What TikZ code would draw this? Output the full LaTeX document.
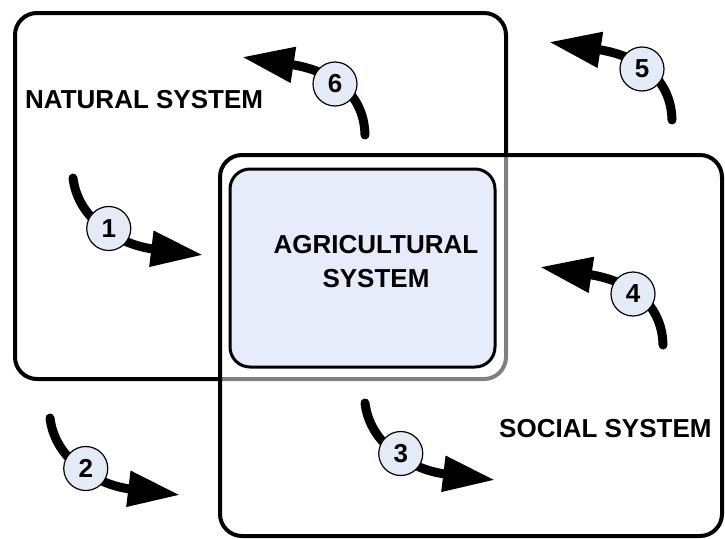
\documentclass[tikz,border=0pt]{standalone}
\usepackage{fontspec}
\setmainfont{Liberation Sans}
\usetikzlibrary{arrows.meta}
\usetikzlibrary{positioning}
\definecolor{agrifill}{RGB}{232,236,250}
\definecolor{numfill}{RGB}{228,234,246}
\tikzset{
  sysbox/.style={line width=4pt, rounded corners=22pt},
  syslabel/.style={font=\bfseries\fontsize{26}{34}\selectfont, inner sep=0pt, align=center},
  flow/.style={line width=9pt, line cap=round, -{Triangle[length=52pt,width=34pt]}},
  stage/.style={circle, draw, line width=1.2pt, fill=numfill, minimum size=44pt, inner sep=0pt,
    font=\bfseries\fontsize{26}{30}\selectfont}
}

\begin{document}
\begin{tikzpicture}[x=1pt, y=-1pt]
\useasboundingbox (0,0) rectangle (725,538);
%% natural system
  \draw[sysbox] (15,13) rectangle (506,379);
	\node[syslabel, anchor=base west] (natural) at (25,108) {NATURAL SYSTEM};
%% social system
  \draw[sysbox, fill=white, fill opacity=0.5] (220,155) rectangle (722,536);
	\node[syslabel, anchor=base west] (social) at (499,437) {SOCIAL SYSTEM};
%% agricultural system
  \draw[line width=3pt, rounded corners=20pt, fill=agrifill] (230,169) rectangle (495,367);
	\node[syslabel, anchor=north] (agri) at (376,235) {AGRICULTURAL\\SYSTEM};
%% arrows into the agricultural system
  \coordinate (tail1) at (73,178);
  \coordinate (tip1) at (203,255);
  \draw[flow] (tail1) .. controls +(5,42) and +(-83,-10) .. (tip1) node[stage, pos=0.5] (n1) {1};
  \coordinate (tail2) at (50,418);
  \coordinate (tip2) at (180,495);
  \draw[flow] (tail2) .. controls +(5,42) and +(-83,-10) .. (tip2) node[stage, pos=0.5] (n2) {2};
  \coordinate (tail3) at (365,403);
  \coordinate (tip3) at (495,480);
  \draw[flow] (tail3) .. controls +(5,42) and +(-83,-10) .. (tip3) node[stage, pos=0.5] (n3) {3};
%% arrows going back
  \coordinate (tail4) at (663,345);
  \coordinate (tip4) at (540,267);
  \draw[flow] (tail4) .. controls +(-1,-45) and +(85,13) .. (tip4) node[stage, pos=0.5] (n4) {4};
  \coordinate (tail5) at (672,120);
  \coordinate (tip5) at (549,42);
  \draw[flow] (tail5) .. controls +(-1,-45) and +(85,13) .. (tip5) node[stage, pos=0.5] (n5) {5};
  \coordinate (tail6) at (365,135);
  \coordinate (tip6) at (242,57);
  \draw[flow] (tail6) .. controls +(-1,-45) and +(85,13) .. (tip6) node[stage, pos=0.5] (n6) {6};
\end{tikzpicture}
\end{document}
